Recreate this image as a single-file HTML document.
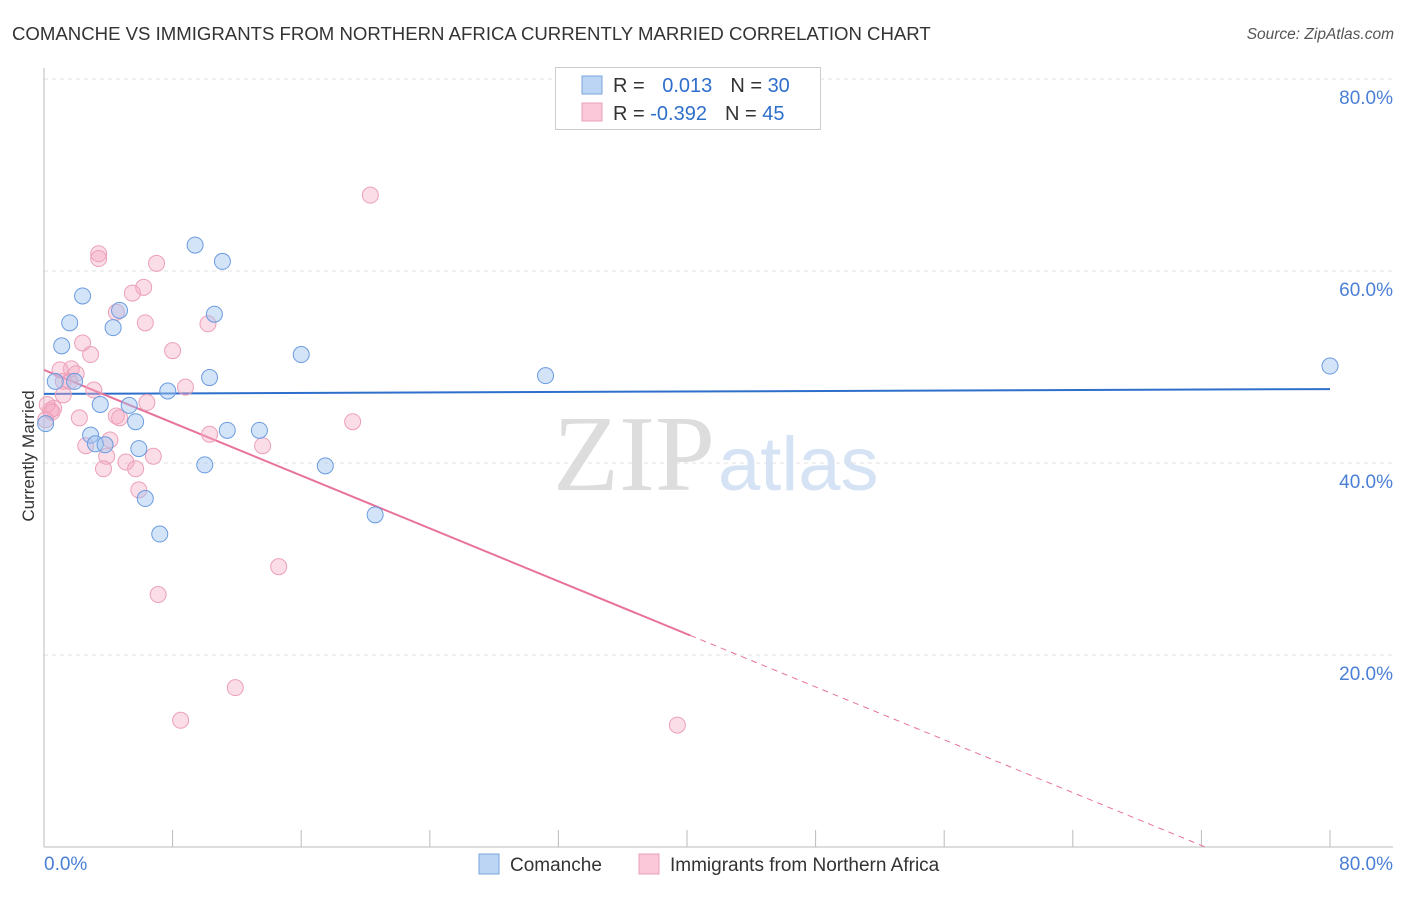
<!DOCTYPE html>
<html><head><meta charset="utf-8"><style>
body{margin:0;background:#fff;font-family:"Liberation Sans",sans-serif}
</style></head><body>
<svg width="1406" height="892" xmlns="http://www.w3.org/2000/svg">
<text x="12" y="40" font-size="18.6" fill="#333">COMANCHE VS IMMIGRANTS FROM NORTHERN AFRICA CURRENTLY MARRIED CORRELATION CHART</text>
<text x="1394" y="39" font-size="15.5" fill="#555" font-style="italic" text-anchor="end">Source: ZipAtlas.com</text>
<g id="grid"></g>
<text x="715" y="490" font-size="108" fill="#ddd" text-anchor="end" font-family="Liberation Serif">ZIP</text>
<text x="718" y="490" font-size="76" fill="#d5e3f5">atlas</text>
<g id="axes"></g>
<g id="lines"></g>
<g id="pts"></g>
<text transform="translate(34,456) rotate(-90)" font-size="17" fill="#333" text-anchor="middle">Currently Married</text>
<g>
<rect x="555.500" y="67.500" width="265" height="62" fill="#fff" stroke="#ccc"/>
<rect x="582" y="76" width="20" height="18" fill="#bcd5f5" stroke="#7aa5e0"/>
<rect x="582" y="103" width="20" height="18" fill="#fac8d8" stroke="#eca0b8"/>
<text x="613" y="92" font-size="20" fill="#333">R = <tspan fill="#2f6fcc" dx="12">0.013</tspan><tspan fill="#333" dx="18">N = </tspan><tspan fill="#2f6fcc">30</tspan></text>
<text x="613" y="120" font-size="20" fill="#333">R = <tspan fill="#2f6fcc">-0.392</tspan><tspan fill="#333" dx="18">N = </tspan><tspan fill="#2f6fcc">45</tspan></text>
</g>
<g>
<rect x="479" y="854" width="20" height="20" fill="#bcd5f5" stroke="#7aa5e0"/>
<text x="510" y="871" font-size="19" fill="#333">Comanche</text>
<rect x="639" y="854" width="20" height="20" fill="#fac8d8" stroke="#eca0b8"/>
<text x="670" y="871" font-size="19" fill="#333">Immigrants from Northern Africa</text>
</g>
</svg>
<script>
const blueX=[0.7,1.1,1.6,2.4,4.3,4.7,7.7,9.4,11.1,10.6,10.3,16.0,31.2,80.0,3.5,5.3,5.7,2.9,3.2,3.8,5.9,6.3,7.2,11.4,13.4,10.0,17.5,20.6,0.1,1.9];
const blueY=[48.5,52.2,54.6,57.4,54.1,55.9,47.5,62.7,61.0,55.5,48.9,51.3,49.1,50.1,46.1,46.0,44.3,42.9,42.0,41.9,41.5,36.3,32.6,43.4,43.4,39.8,39.7,34.6,44.1,48.5];
const pinkX=[20.3,3.4,3.4,7.0,6.2,5.5,4.5,6.3,10.2,2.4,2.9,8.0,1.7,2.0,1.0,1.2,1.6,3.1,8.8,6.4,0.6,0.4,2.2,4.5,4.7,19.2,10.3,2.6,3.9,6.8,5.1,13.6,3.7,5.7,5.9,14.6,7.1,11.9,8.5,39.4,1.2,0.2,0.5,0.1,4.1];
const pinkY=[67.9,61.8,61.3,60.8,58.3,57.7,55.7,54.6,54.5,52.5,51.3,51.7,49.8,49.3,49.7,48.5,48.5,47.6,47.9,46.3,45.7,45.5,44.7,44.9,44.7,44.3,43.0,41.8,40.7,40.7,40.1,41.8,39.4,39.4,37.2,29.2,26.3,16.6,13.2,12.7,47.1,46.1,45.3,44.5,42.4];
const yTicks=[20,40,60,80];
const yTickLabels=["20.0%","40.0%","60.0%","80.0%"];
const blueTrend=[47.2,47.7];
const pinkTrend=[49.7,-0.688];
const NS="http://www.w3.org/2000/svg";
const sx=v=>44+v*16.075, sy=v=>847-v*9.6;
function mk(p,t,a){const e=document.createElementNS(NS,t);for(const k in a)e.setAttribute(k,a[k]);document.getElementById(p).appendChild(e);return e;}
yTicks.forEach((t,i)=>{
 const g=mk('grid','line',{x1:44,x2:1393,y1:sy(t),y2:sy(t),stroke:'#e2e2e2','stroke-dasharray':'4,4'});
 
 
 const l=mk('axes','text',{x:1393,y:sy(t)+25,'font-size':19,fill:'#4a7fd6','text-anchor':'end'});
 l.textContent=yTickLabels[i];
 
 
});
mk('axes','line',{x1:44,x2:44,y1:68,y2:847,stroke:'#bbb'});
mk('axes','line',{x1:44,x2:1393,y1:847,y2:847,stroke:'#bbb'});
for(let i=0;i<=10;i++){mk('axes','line',{x1:sx(i*8),x2:sx(i*8),y1:830,y2:847,stroke:'#bbb'});}
const x0=mk('axes','text',{x:44,y:870,'font-size':19,fill:'#4a7fd6'});x0.textContent="0.0%";


const x1=mk('axes','text',{x:1393,y:870,'font-size':19,fill:'#4a7fd6','text-anchor':'end'});x1.textContent="80.0%";


const bl=mk('lines','line',{x1:sx(0),y1:sy(blueTrend[0]),x2:sx(80),y2:sy(blueTrend[1]),stroke:'#2f6fcc','stroke-width':2});


const pEnd=40.2, pZero=-pinkTrend[0]/pinkTrend[1];
const pl=mk('lines','line',{x1:sx(0),y1:sy(pinkTrend[0]),x2:sx(pEnd),y2:sy(pinkTrend[0]+pinkTrend[1]*pEnd),stroke:'#e8739a','stroke-width':2});


const pd=mk('lines','line',{x1:sx(pEnd),y1:sy(pinkTrend[0]+pinkTrend[1]*pEnd),x2:sx(pZero),y2:sy(0),stroke:'#e8739a','stroke-width':1,'stroke-dasharray':'6,5'});


pinkX.forEach((x,i)=>{const c=mk('pts','circle',{cx:sx(x),cy:sy(pinkY[i]),r:8,fill:'rgba(245,170,195,0.4)',stroke:'#eca0b8','stroke-width':1});
 
 });
blueX.forEach((x,i)=>{const c=mk('pts','circle',{cx:sx(x),cy:sy(blueY[i]),r:8,fill:'rgba(160,195,240,0.45)',stroke:'#6a9be0','stroke-width':1});
 
 });
</script>
</body></html>
